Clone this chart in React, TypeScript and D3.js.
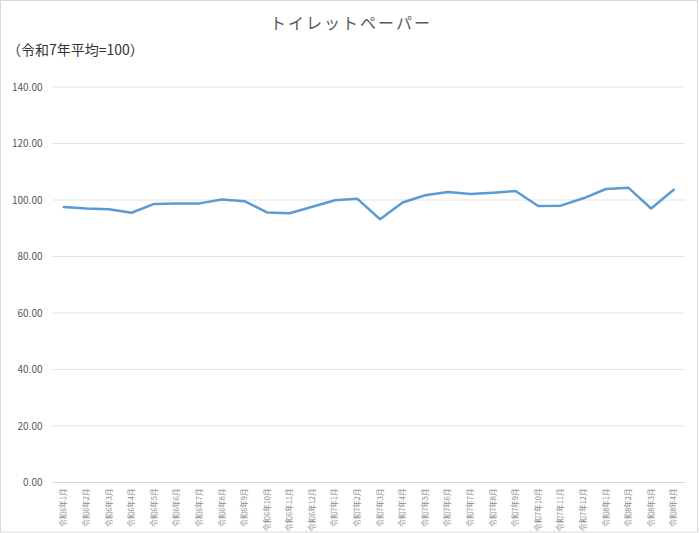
import React, { useEffect, useRef } from 'react';
import * as d3 from 'd3';

const months: string[] = [
  '令和6年1月', '令和6年2月', '令和6年3月', '令和6年4月', '令和6年5月', '令和6年6月',
  '令和6年7月', '令和6年8月', '令和6年9月', '令和6年10月', '令和6年11月', '令和6年12月',
  '令和7年1月', '令和7年2月', '令和7年3月', '令和7年4月', '令和7年5月', '令和7年6月',
  '令和7年7月', '令和7年8月', '令和7年9月', '令和7年10月', '令和7年11月', '令和7年12月',
  '令和8年1月', '令和8年2月', '令和8年3月', '令和8年4月',
];

const values: number[] = [
  97.5, 97.0, 96.7, 95.5, 98.6, 98.8, 98.8, 100.2, 99.6, 95.6, 95.3, 97.6,
  99.9, 100.4, 93.2, 99.1, 101.7, 102.8, 102.1, 102.6, 103.2, 97.9, 98.0, 100.6,
  103.9, 104.3, 97.0, 103.6,
];

const yTicks: number[] = [0, 20, 40, 60, 80, 100, 120, 140];

const title = 'トイレットペーパー';
const subtitle = '（令和7年平均=100）';

const W = 700;
const H = 533;
const font = '"Noto Sans CJK JP", "Noto Sans", sans-serif';

const App: React.FC = () => {
  const svgRef = useRef<SVGSVGElement>(null);

  useEffect(() => {
    if (!svgRef.current) return;
    const svg = d3.select(svgRef.current);
    svg.selectAll('*').remove();

    const margin = { top: 87, right: 15, bottom: 50.5, left: 52.5 };
    const width = W - margin.left - margin.right;
    const height = H - margin.top - margin.bottom;

    // chart border
    svg.append('rect')
      .attr('x', 0.5).attr('y', 0.5)
      .attr('width', W - 3).attr('height', H - 1.5)
      .attr('fill', '#fff')
      .attr('stroke', '#d9d9d9');

    const g = svg.append('g').attr('transform', `translate(${margin.left},${margin.top})`);

    const x = d3.scaleBand<string>().domain(months).range([0, width]);
    const y = d3.scaleLinear().domain([0, 140]).range([height, 0]);

    // gridlines
    g.selectAll('line.grid')
      .data(yTicks.filter(t => t > 0))
      .enter()
      .append('line')
      .attr('class', 'grid')
      .attr('x1', 0).attr('x2', width)
      .attr('y1', d => y(d)).attr('y2', d => y(d))
      .attr('stroke', '#e3e3e3')
      .attr('stroke-width', 1);

    // x axis line
    g.append('line')
      .attr('x1', 0).attr('x2', width)
      .attr('y1', y(0)).attr('y2', y(0))
      .attr('stroke', '#d9d9d9')
      .attr('stroke-width', 1);

    // y tick labels
    g.selectAll('text.ytick')
      .data(yTicks)
      .enter()
      .append('text')
      .attr('class', 'ytick')
      .attr('x', -10)
      .attr('y', d => y(d))
      .attr('dy', '0.35em')
      .attr('text-anchor', 'end')
      .style('font-family', font)
      .style('font-size', '10px')
      .style('fill', '#595959')
      .text(d => d.toFixed(2));

    // x tick labels (rotated)
    g.selectAll('text.xtick')
      .data(months)
      .enter()
      .append('text')
      .attr('class', 'xtick')
      .attr('transform', d => `translate(${(x(d) ?? 0) + x.bandwidth() / 2},${height + 6}) rotate(-90)`)
      .attr('dy', '0.35em')
      .attr('text-anchor', 'end')
      .style('font-family', font)
      .style('font-size', '7.5px')
      .style('fill', '#8c8c8c')
      .text(d => d);

    // line
    const line = d3.line<number>()
      .x((_, i) => (x(months[i]) ?? 0) + x.bandwidth() / 2)
      .y(d => y(d));

    g.append('path')
      .datum(values)
      .attr('d', line)
      .attr('fill', 'none')
      .attr('stroke', '#5b9bd5')
      .attr('stroke-width', 2.5)
      .attr('stroke-linejoin', 'round')
      .attr('stroke-linecap', 'round');

    // title and subtitle
    svg.append('text')
      .attr('x', 351)
      .attr('y', 29)
      .attr('text-anchor', 'middle')
      .style('font-family', font)
      .style('font-size', '16px')
      .style('letter-spacing', '2px')
      .style('fill', '#595959')
      .text(title);

    svg.append('text')
      .attr('x', 7)
      .attr('y', 55)
      .style('font-family', font)
      .style('font-size', '14px')
      .style('fill', '#333')
      .text(subtitle);
  }, []);

  return (
    <div style={{ position: 'absolute', left: 0, top: 0 }}>
      <svg ref={svgRef} width={W} height={H} style={{ display: 'block' }}></svg>
    </div>
  );
};

export default App;
